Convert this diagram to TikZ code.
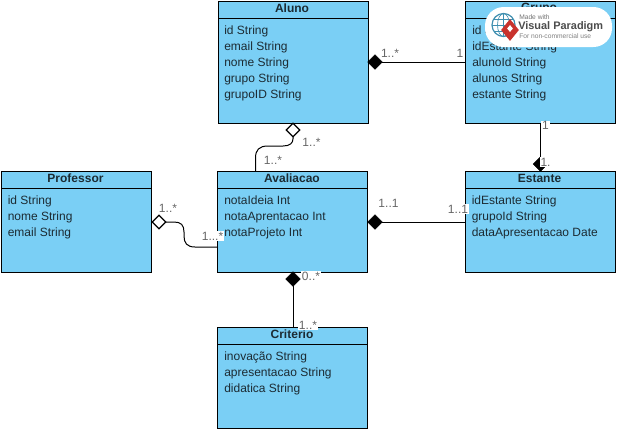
\documentclass[tikz,border=0pt]{standalone}
\usepackage{fontspec}
\setmainfont{Liberation Sans}
\usetikzlibrary{shapes.geometric,calc}
\definecolor{umlfill}{HTML}{7ACFF5}
\definecolor{umltext}{HTML}{1C2B33}
\definecolor{multi}{HTML}{666666}
\definecolor{globeblue}{HTML}{3F8FB0}
\definecolor{vpred}{HTML}{C8322D}
\newcommand{\umlclass}[6]{%
  \node[classbox,minimum width=#5*0.75pt] (#1) at (#2,#3) {};
  \draw[conn] ($(#1.north west)+(0,17)$) coordinate (#1h) -- (#1h -| #1.east);
  \node[classtitle] (#1t) at ($(#1.north)+(-0.5,7.5)$) {#4};
  \node[attrs] (#1a) at ($(#1.north west)+(6.5,24.2)$) {#6};
}
\begin{document}
\begin{tikzpicture}[x=0.75pt,y=-0.75pt,
  classbox/.style={draw=black,fill=umlfill,line width=0.75pt,minimum height=101*0.75pt,inner sep=0pt,outer sep=0pt},
  classtitle/.style={font=\fontsize{9}{11}\selectfont\bfseries,text=umltext,inner sep=0pt},
  attrs/.style={font=\fontsize{9}{12}\selectfont,text=umltext,anchor=north west,align=left,inner sep=0pt},
  conn/.style={draw=black,line width=0.75pt},
  opend/.style={diamond,aspect=1,draw=black,fill=white,line width=0.9pt,minimum width=13.5*0.75pt,minimum height=13.5*0.75pt,inner sep=0pt,outer sep=0pt},
  filld/.style={diamond,aspect=1,draw=black,fill=black,line width=0.5pt,minimum width=14.5*0.75pt,minimum height=14.5*0.75pt,inner sep=0pt,outer sep=0pt},
  mult/.style={font=\fontsize{9}{10}\selectfont,text=multi,inner sep=0.6pt},
  multw/.style={mult,fill=white},
]
\useasboundingbox (0,0) rectangle (617,430);
% classes
\node[classbox,minimum width=112.5pt,minimum height=122*0.75pt] (aluno) at (293,62) {};
\draw[conn] ($(aluno.north west)+(0,17)$) coordinate (alunoh) -- (alunoh -| aluno.east);
\node[classtitle] (alunot) at (292,8.5) {Aluno};
\node[attrs] (alunoa) at (224,25.2) {id String\\email String\\nome String\\grupo String\\grupoID String};
\node[classbox,minimum width=112.5pt,minimum height=122*0.75pt] (grupo) at (540,62) {};
\draw[conn] ($(grupo.north west)+(0,17)$) coordinate (grupoh) -- (grupoh -| grupo.east);
\node[classtitle] (grupot) at (539,8.5) {Grupo};
\node[attrs] (grupoa) at (472,25.2) {id String\\idEstante String\\alunoId String\\alunos String\\estante String};
\umlclass{prof}{76}{221.5}{Professor}{150}{id String\\nome String\\email String}
\umlclass{aval}{292.5}{221.5}{Avaliacao}{150}{notaIdeia Int\\notaAprentacao Int\\notaProjeto Int}
\umlclass{est}{540}{221.5}{Estante}{150}{idEstante String\\grupoId String\\dataApresentacao Date}
\umlclass{crit}{292.5}{377.5}{Criterio}{150}{inovação String\\apresentacao String\\didatica String}
% diamonds
\node[filld] (d1) at (375,62) {};
\node[opend] (d2) at (293,130) {};
\node[opend] (d3) at (159,222) {};
\node[filld] (d4) at (375,222) {};
\node[filld] (d5) at (540.5,164) {};
\node[filld] (d6) at (293,279) {};
% connectors
\draw[conn] (d1.east) -- (d1 -| grupo.west);
\draw[conn] (d4.east) -- (d4 -| est.west);
\draw[conn] (d5 |- grupo.south) -- (d5.north);
\draw[conn] (d6.south) -- (d6 |- crit.north);
\coordinate (a1) at (255.5,171);
\coordinate (a2) at (218,247);
\draw[conn,line cap=round] (d2.south) -- ++(0,2) .. controls (293,143) and (290,146) .. (283,146) -- (268,146) .. controls (259,146) and (255.5,150) .. (255.5,158) -- (a1 |- aval.north);
\draw[conn,line cap=round] (d3.east) -- (174,222) .. controls (181,222) and (184,225) .. (184,232) -- (184,236) .. controls (184,243) and (187,247) .. (195,247) -- (a2 -| aval.west);
% multiplicities
\node[mult] (m1) at (390,53) {1..*};
\node[mult] (m2) at (460,53) {1};
\node[mult] (m3) at (311.5,142) {1..*};
\node[mult] (m4) at (273,160) {1..*};
\node[mult] (m5) at (168,208) {1..*};
\node[multw] (m6) at (212.5,236) {1...*};
\node[mult] (m7) at (388.5,203) {1..1};
\node[multw] (m8) at (458,209) {1..1};
\node[multw] (m9) at (545.5,125.5) {1};
\node[multw] (m10) at (545.5,162) {1.};
\node[multw] (m11) at (311,276) {0..*};
\node[multw] (m12) at (308,325) {1..*};
% watermark
\node[draw=none,fill=white,rounded corners=14pt,minimum width=127*0.75pt,minimum height=40*0.75pt,inner sep=0pt] (wm) at (548.5,27) {};
\begin{scope}
\draw[color=globeblue,line width=0.9pt] (503.5,25) circle (11.5);
\clip (503.5,25) circle (11.5);
\draw[color=globeblue,line width=0.5pt] (492,25) -- (515,25) (492,19) -- (515,19) (492,31) -- (515,31) (503.5,13) -- (503.5,37);
\draw[color=globeblue,line width=0.5pt] (503.5,25) ellipse (6 and 11.5);
\end{scope}
\node[diamond,aspect=1,fill=vpred,minimum width=18*0.75pt,minimum height=22*0.75pt,inner sep=0pt] (rd) at (510,30) {};
\node[diamond,aspect=1,fill=white,minimum width=6*0.75pt,minimum height=7*0.75pt,inner sep=0pt] (rd2) at (510,28.5) {};
\node[font=\fontsize{5}{6}\selectfont,text=black!55,anchor=west,inner sep=0pt] (wm1) at (519,17) {Made with};
\node[font=\fontsize{8.2}{10}\selectfont\bfseries,text=black!70,anchor=west,inner sep=0pt] (wm2) at (518,27) {Visual Paradigm};
\node[font=\fontsize{5}{6}\selectfont,text=black!50,anchor=west,inner sep=0pt] (wm3) at (519,36.5) {For non-commercial use};
\end{tikzpicture}
\end{document}
